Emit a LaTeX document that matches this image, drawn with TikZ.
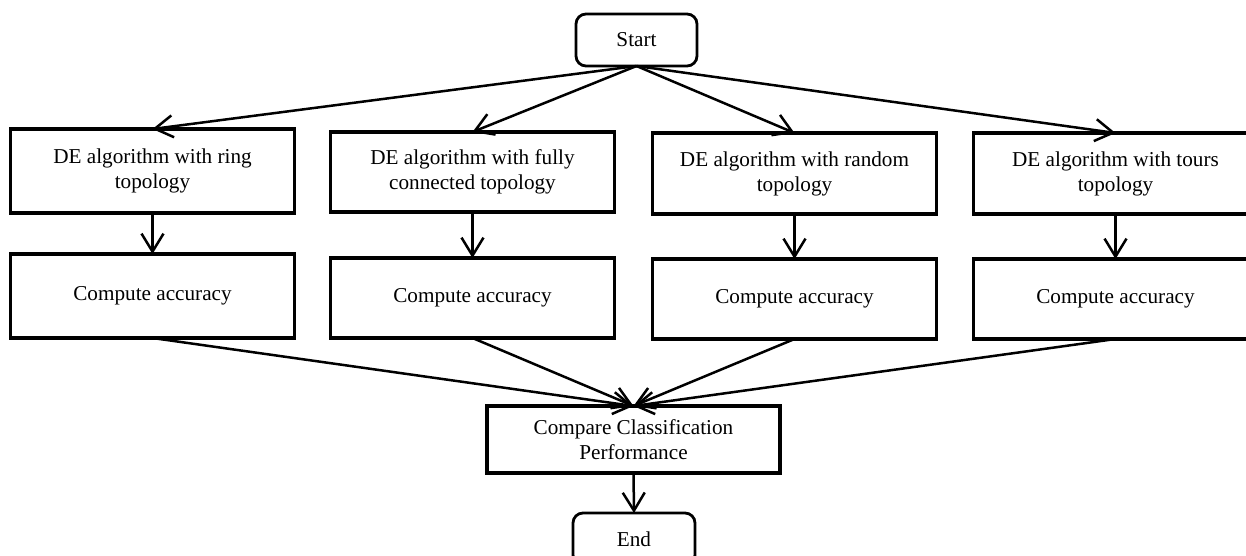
\documentclass[tikz,border=0pt]{standalone}
\usepackage{fontspec}
\setmainfont{Liberation Serif}
\usetikzlibrary{arrows.meta}

\begin{document}
\begin{tikzpicture}[x=0.5pt,y=-0.5pt,
    font=\fontsize{10.6}{12.5}\selectfont,
    >={Straight Barb[length=9pt,width=11pt]},
    terminal/.style={draw,line width=1.4pt,rounded corners=5pt,minimum width=60.5pt,minimum height=26pt,inner sep=0pt,outer sep=0pt},
    process/.style={draw,line width=1.6pt,minimum width=142pt,align=center,inner sep=0pt,outer sep=0pt},
    flow/.style={->,line width=1.25pt}]
  \clip (0,0) rectangle (1246,556);

  \node[terminal] (start) at (636.5,40) {Start};

  \node[process,minimum height=42pt] (de-ring)   at (152.5,171)  {DE algorithm with ring\\topology};
  \node[process,minimum height=40pt] (de-full)   at (472.5,172)  {DE algorithm with fully\\connected topology};
  \node[process,minimum height=40.5pt] (de-random) at (794.5,173.5) {DE algorithm with random\\topology};
  \node[process,minimum height=40.5pt] (de-tours)  at (1115.5,173.5) {DE algorithm with tours\\topology};

  \node[process,minimum height=42pt] (acc-ring)   at (152.5,296) {Compute accuracy};
  \node[process,minimum height=40pt] (acc-full)   at (472.5,298) {Compute accuracy};
  \node[process,minimum height=40pt] (acc-random) at (794.5,299) {Compute accuracy};
  \node[process,minimum height=40pt] (acc-tours)  at (1115.5,299) {Compute accuracy};

  \node[process,minimum width=146.5pt,minimum height=33.5pt] (compare) at (633.5,439.5) {Compare Classification\\Performance};

  \node[terminal,minimum width=61pt] (end) at (634,539) {End};

  \draw[flow] (start.south) -- (de-ring.north);
  \draw[flow] (start.south) -- (de-full.north);
  \draw[flow] (start.south) -- (de-random.north);
  \draw[flow] (start.south) -- (de-tours.north);

  \draw[flow] (de-ring.south)   -- (acc-ring.north);
  \draw[flow] (de-full.south)   -- (acc-full.north);
  \draw[flow] (de-random.south) -- (acc-random.north);
  \draw[flow] (de-tours.south)  -- (acc-tours.north);

  \draw[flow] (acc-ring.south)   -- (compare.north);
  \draw[flow] (acc-full.south)   -- (compare.north);
  \draw[flow] (acc-random.south) -- (compare.north);
  \draw[flow] (acc-tours.south)  -- (compare.north);

  \draw[flow] (compare.south) -- (end.north);
\end{tikzpicture}
\end{document}
